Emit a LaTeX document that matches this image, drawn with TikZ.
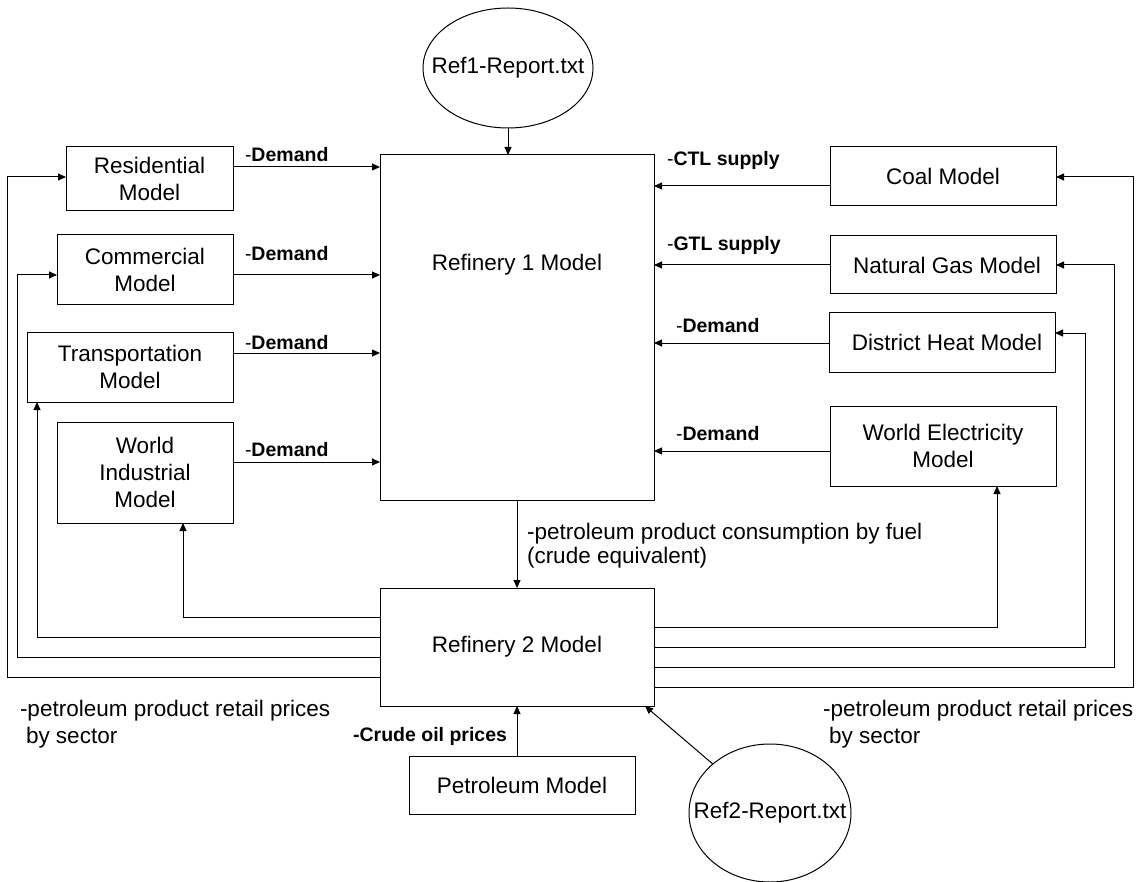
\documentclass[tikz,border=0pt]{standalone}
\usepackage{fontspec}
\setmainfont{Liberation Sans}
\usetikzlibrary{arrows.meta,shapes.geometric}
\begin{document}
\begin{tikzpicture}[x=1pt,y=-1pt,
  every node/.style={inner sep=0pt, outer sep=0pt},
  txt/.style={font=\fontsize{22.5}{27}\selectfont},
  lbl/.style={font=\fontsize{19.5}{23}\selectfont},
  box/.style={draw, line width=1pt, rectangle, align=center, txt},
  oval/.style={draw, line width=1pt, ellipse},
  arr/.style={line width=1pt, -{Triangle[length=8pt,width=7pt]}},
  ln/.style={line width=1pt}]
\useasboundingbox (0,0) rectangle (1142,882);

% ellipses
\node[oval, minimum width=170pt, minimum height=120pt,
  label={[txt]center:Ref1-Report.txt}] (ref1) at (508,68) {};
\node[oval, minimum width=162pt, minimum height=138pt,
  label={[txt]center:Ref2-Report.txt}] (ref2) at (770,813) {};

% central boxes
\node[box, minimum width=274pt, minimum height=345pt] (r1) at (517,327.5) {};
\node[txt] (r1t) at (517,265) {Refinery 1 Model};
\node[box, minimum width=274pt, minimum height=118pt] (r2) at (517,647) {Refinery 2 Model};
\node[box, minimum width=226pt, minimum height=58pt] (pet) at (522,785) {Petroleum Model};

% left boxes
\node[box, minimum width=167pt, minimum height=64pt] (res) at (149.5,179) {Residential\\Model};
\node[box, minimum width=176pt, minimum height=70pt] (com) at (145,270) {Commercial\\Model};
\node[box, minimum width=206pt, minimum height=70pt] (tra) at (130,367) {Transportation\\Model};
\node[box, minimum width=176pt, minimum height=101pt] (ind) at (145,472.5) {World\\Industrial\\Model};

% right boxes
\node[box, minimum width=226pt, minimum height=59pt] (coal) at (943,176.5) {Coal Model};
\node[box, minimum width=226pt, minimum height=58pt] (ng) at (943,265) {\hspace*{8pt}Natural Gas Model};
\node[box, minimum width=226pt, minimum height=59pt] (dh) at (942,342.5) {\hspace*{10pt}District Heat Model};
\node[box, minimum width=226pt, minimum height=80pt] (we) at (943,446) {World Electricity\\Model};

% demand arrows (left -> Refinery 1)
\draw[arr] (res.east |- 0,167) -- (r1.west |- 0,167);
\draw[arr] (com.east |- 0,275) -- (r1.west |- 0,275);
\draw[arr] (tra.east |- 0,353) -- (r1.west |- 0,353);
\draw[arr] (ind.east |- 0,462) -- (r1.west |- 0,462);
\node[lbl, anchor=west] (l1) at (245,155) {-\textbf{Demand}};
\node[lbl, anchor=west] (l2) at (245,254) {-\textbf{Demand}};
\node[lbl, anchor=west] (l3) at (245,343) {-\textbf{Demand}};
\node[lbl, anchor=west] (l4) at (245,450) {-\textbf{Demand}};

% right -> Refinery 1
\draw[arr] (coal.west |- 0,186) -- (r1.east |- 0,186);
\draw[arr] (ng.west) -- (r1.east |- ng.west);
\draw[arr] (dh.west |- 0,343) -- (r1.east |- 0,343);
\draw[arr] (we.west |- 0,451) -- (r1.east |- 0,451);
\node[lbl, anchor=west] (l5) at (667,160) {-\textbf{CTL supply}};
\node[lbl, anchor=west] (l6) at (667,245) {-\textbf{GTL supply}};
\node[lbl, anchor=west] (l7) at (676,326) {-\textbf{Demand}};
\node[lbl, anchor=west] (l8) at (676,434) {-\textbf{Demand}};

% vertical flows
\draw[arr] (ref1.south) -- (ref1.south |- r1.north);
\draw[arr] (r1.south) -- (r2.north);
\node[txt, anchor=north west, align=left, font=\fontsize{22.5}{24}\selectfont] (cons) at (527,523)
  {-petroleum product consumption by fuel\\(crude equivalent)};
\draw[arr] (r2.south |- pet.north) -- (r2.south);
\node[lbl, anchor=east] (crude) at (507,736) {\textbf{-Crude oil prices}};
\draw[arr] (ref2) -- ([xshift=-9pt]r2.south east);

% feedback to the left
\draw[arr] (r2.west |- 0,617) -| (ind.south -| 183,0);
\draw[arr] (r2.west |- 0,637) -| (tra.south -| 37,0);
\draw[arr] (r2.west |- 0,657) -| (17,275) -- (com.west |- 0,275);
\draw[arr] (r2.west |- 0,677) -| (7,177) -- (res.west |- 0,177);

% feedback to the right
\draw[arr] (r2.east |- 0,627) -| (we.south -| 997,0);
\draw[arr] (r2.east |- 0,647) -| (1085,333) -- (dh.east |- 0,333);
\draw[arr] (r2.east |- 0,667) -| (1114,265) -- (ng.east);
\draw[arr] (r2.east |- 0,687) -| (1133,177) -- (coal.east |- 0,177);

% price labels
\node[txt, anchor=north west, align=left] (pl) at (20,700)
  {-petroleum product retail prices\\\hspace*{6pt}by sector};
\node[txt, anchor=north west, align=left] (pr) at (823,700)
  {-petroleum product retail prices\\\hspace*{6pt}by sector};
\end{tikzpicture}
\end{document}
